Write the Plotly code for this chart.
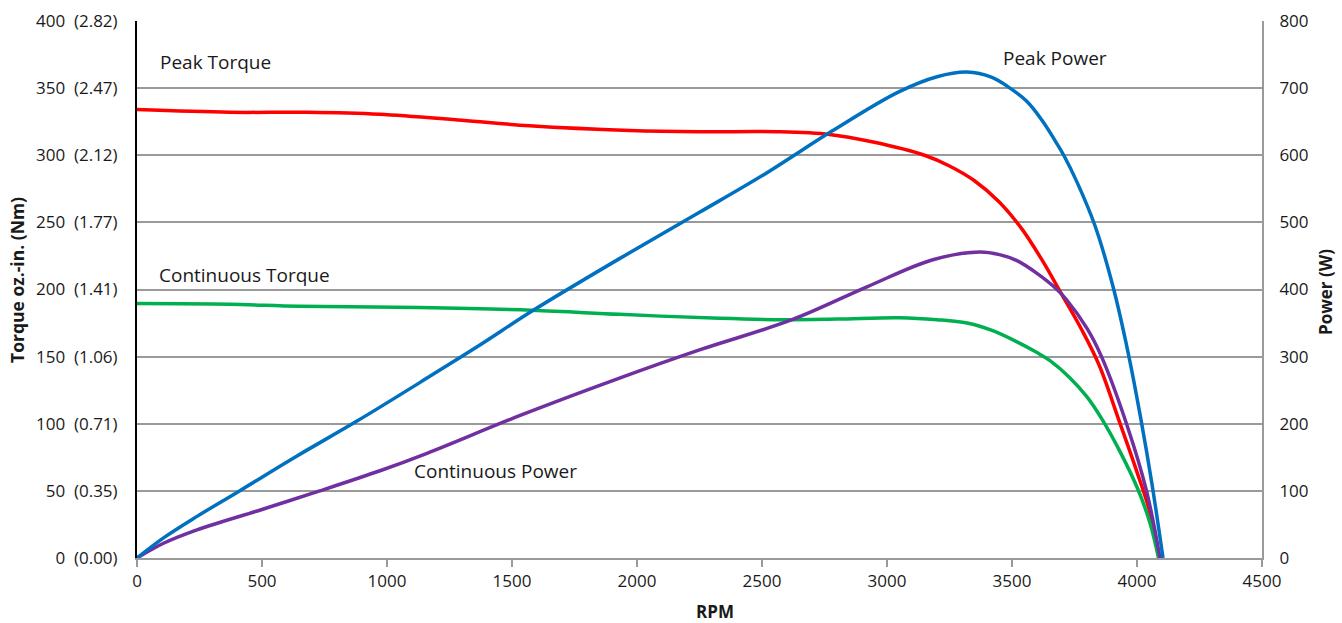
import plotly.graph_objects as go

# ---- data ----
x_ticks = [0, 500, 1000, 1500, 2000, 2500, 3000, 3500, 4000, 4500]
left_tick_vals = [0, 50, 100, 150, 200, 250, 300, 350, 400]
left_tick_nm = ["0.00", "0.35", "0.71", "1.06", "1.41", "1.77", "2.12", "2.47", "2.82"]
right_tick_vals = [0, 100, 200, 300, 400, 500, 600, 700, 800]

peak_torque_rpm = [0, 370, 680, 970, 1300, 1570, 1970, 2250, 2560, 2770, 2940, 3150, 3250,
                   3350, 3450, 3540, 3620, 3700, 3779, 3850, 3925, 4000, 4050, 4088]
peak_torque = [334, 332, 332, 330.5, 326, 322, 318.5, 317.5, 317.5, 315.5, 310, 300, 292,
               281, 265, 245, 222, 196, 170, 143, 104, 64, 35, 0]

cont_torque_rpm = [0, 370, 650, 1130, 1580, 1930, 2330, 2580, 2800, 3050, 3200, 3320,
                   3420, 3520, 3600, 3652, 3730, 3800, 3858, 3930, 4004, 4052, 4086]
cont_torque = [189.5, 189, 187.5, 186.5, 184.5, 181.5, 178.5, 177.5, 178, 179, 177.5, 175,
               169.5, 161, 153, 147, 134.5, 120, 104, 80, 51, 26, 0]

peak_power_rpm = [0, 106, 240, 410, 640, 880, 1160, 1370, 1585, 1930, 2250, 2520, 2780, 3045,
                  3200, 3320, 3420, 3492, 3560, 3620, 3680, 3707, 3760, 3832, 3905, 3965,
                  4015, 4060, 4104]
peak_power = [0, 30, 62, 100, 152, 204, 268, 317, 369, 446, 515, 574, 636, 694,
              717, 724, 716, 700, 680, 652, 617, 600, 560, 495, 403, 305,
              208, 110, 0]

cont_power_rpm = [0, 106, 240, 506, 706, 972, 1160, 1530, 1930, 2250, 2620, 2920, 3180, 3370,
                  3450, 3520, 3600, 3680, 3720, 3800, 3858, 3958, 4038, 4092]
cont_power = [0, 22, 42, 73, 97, 130, 156, 212, 268, 310, 355, 404, 444, 456,
              452, 443, 424, 400, 384, 342, 300, 200, 100, 0]

FONT = "Open Sans"
GRID = "#9a9a9a"
SM = 1.0

fig = go.Figure()

fig.add_trace(go.Scatter(x=peak_torque_rpm, y=peak_torque, mode="lines", name="Peak Torque",
                         line=dict(color="#FF0000", width=3.5, shape="spline", smoothing=SM)))
fig.add_trace(go.Scatter(x=cont_torque_rpm, y=cont_torque, mode="lines", name="Continuous Torque",
                         line=dict(color="#00B050", width=3.5, shape="spline", smoothing=SM)))
fig.add_trace(go.Scatter(x=cont_power_rpm, y=cont_power, mode="lines", name="Continuous Power",
                         yaxis="y2",
                         line=dict(color="#7030A0", width=3.5, shape="spline", smoothing=SM)))
fig.add_trace(go.Scatter(x=peak_power_rpm, y=peak_power, mode="lines", name="Peak Power",
                         yaxis="y2",
                         line=dict(color="#0070C0", width=3.5, shape="spline", smoothing=SM)))

left_tick_text = [f"{v}  ({n})" for v, n in zip(left_tick_vals, left_tick_nm)]

fig.update_layout(
    width=1342, height=623,
    margin=dict(l=137, r=80, t=21, b=65),
    paper_bgcolor="white", plot_bgcolor="white",
    showlegend=False,
    font=dict(family=FONT, size=17, color="#1a1a1a"),
    xaxis=dict(
        range=[0, 4500], tickvals=x_ticks, ticktext=[str(v) for v in x_ticks],
        showgrid=False, zeroline=False, automargin=False,
        showline=True, linecolor=GRID, linewidth=2,
        ticks="outside", ticklen=7, tickcolor=GRID, tickwidth=1.5,
        tickfont=dict(size=17),
    ),
    yaxis=dict(
        range=[0, 400], tickvals=left_tick_vals, ticktext=left_tick_text,
        showgrid=True, gridcolor=GRID, gridwidth=1.5, zeroline=False, automargin=False,
        showline=True, linecolor="black", linewidth=2,
        ticks="", tickfont=dict(size=17), ticklabelstandoff=14,
    ),
    yaxis2=dict(
        range=[0, 800], tickvals=right_tick_vals, overlaying="y", side="right",
        showgrid=False, zeroline=False, automargin=False,
        showline=True, linecolor=GRID, linewidth=2,
        ticks="", tickfont=dict(size=17), ticklabelstandoff=12,
    ),
    annotations=[
        dict(x=84, y=369.5, xref="x", yref="y", text="Peak Torque", showarrow=False,
             xanchor="left", yanchor="middle", font=dict(size=19)),
        dict(x=80, y=210.8, xref="x", yref="y", text="Continuous Torque", showarrow=False,
             xanchor="left", yanchor="middle", font=dict(size=19)),
        dict(x=3456, y=372.4, xref="x", yref="y", text="Peak Power", showarrow=False,
             xanchor="left", yanchor="middle", font=dict(size=19)),
        dict(x=1100, y=64.8, xref="x", yref="y", text="Continuous Power", showarrow=False,
             xanchor="left", yanchor="middle", font=dict(size=19)),
        # axis titles
        dict(x=17, y=280, xref="paper", yref="paper", text="<b>Torque oz.-in. (Nm)</b>",
             showarrow=False, textangle=-90, xanchor="center", yanchor="middle",
             font=dict(size=17.5)),
        dict(x=1325, y=292, xref="paper", yref="paper", text="<b>Power (W)</b>",
             showarrow=False, textangle=-90, xanchor="center", yanchor="middle",
             font=dict(size=17)),
        dict(x=715, y=611, xref="paper", yref="paper", text="<b>RPM</b>",
             showarrow=False, xanchor="center", yanchor="middle", font=dict(size=17)),
    ],
)

# convert pixel positions of axis-title annotations to paper coordinates
W, H = 1342, 623
L, R, T, B = 137, 80, 21, 65
pw, ph = W - L - R, H - T - B
for a in fig.layout.annotations:
    if a.xref == "paper":
        a.x = (a.x - L) / pw
        a.y = (H - B - a.y) / ph

fig.write_html("out.html", config={"displayModeBar": False},
               post_script="document.body.style.margin='0';document.body.style.overflow='hidden';")
